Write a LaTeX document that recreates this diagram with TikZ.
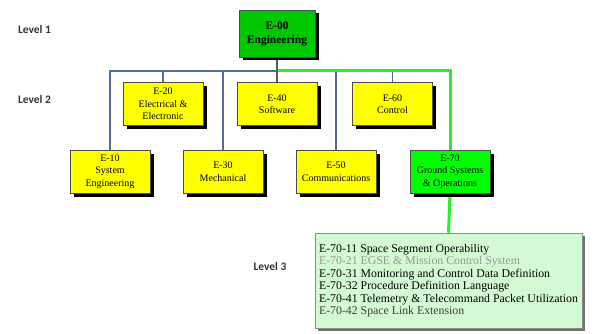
\documentclass[tikz,border=0pt]{standalone}
\usepackage{fontspec}
\setmainfont{Liberation Serif}
\newfontfamily\lvlfont{Carlito}
\usetikzlibrary{shadows,backgrounds}
\definecolor{boxyellow}{RGB}{255,255,0}
\definecolor{topgreen}{RGB}{0,200,0}
\definecolor{brightgreen}{RGB}{0,255,0}
\definecolor{palegreen}{RGB}{212,250,212}
\definecolor{busblue}{RGB}{80,110,150}
\definecolor{busgreen}{RGB}{40,240,40}
\definecolor{dimtext}{RGB}{150,150,150}
\definecolor{midtext}{RGB}{60,60,60}

\begin{document}
\begin{tikzpicture}[x=1pt,y=-1pt,
  boxshadow/.style={drop shadow={shadow xshift=3.5pt, shadow yshift=-3.5pt, opacity=1, fill=black}},
  unitbox/.style={boxshadow, draw=black!70, line width=0.5pt, fill=boxyellow,
    minimum width=80pt, minimum height=43pt, align=center, inner sep=1pt,
    font=\fontsize{10}{12.5}\selectfont},
  topbox/.style={unitbox, fill=topgreen, minimum width=76pt, minimum height=47pt,
    font=\fontsize{11.5}{14}\selectfont\bfseries},
  groundbox/.style={unitbox, fill=brightgreen},
  listbox/.style={drop shadow={shadow xshift=3pt, shadow yshift=-3pt, opacity=0.8, fill=black!70},
    draw=black!45, line width=0.5pt, fill=palegreen, minimum width=263pt, minimum height=95pt,
    align=left, inner xsep=4pt, inner ysep=0pt, font=\fontsize{11.8}{12.5}\selectfont},
  levellabel/.style={font=\lvlfont\bfseries\fontsize{11.5}{13}\selectfont, text=black!80},
  busline/.style={draw=busblue, line width=1.1pt},
  stemline/.style={draw=black!65, line width=1.1pt},
  greenline/.style={draw=busgreen, line width=3pt}
]
\useasboundingbox (0,0) rectangle (594,334);

% level labels
\node[levellabel] (lv1) at (34.5,30) {Level 1};
\node[levellabel] (lv2) at (34.5,100) {Level 2};
\node[levellabel] (lv3) at (270,267) {Level 3};

% level 1
\node[topbox] (e00) at (277,33.5) {E-00\\Engineering};

% level 2, upper row
\node[unitbox] (e20) at (163,104) {E-20\\Electrical \&\\Electronic};
\node[unitbox] (e40) at (277,104) {E-40\\Software};
\node[unitbox] (e60) at (392.5,104) {E-60\\Control};

% level 2, lower row
\node[unitbox] (e10) at (110,171.5) {E-10\\System\\Engineering};
\node[unitbox] (e30) at (223,171.5) {E-30\\Mechanical};
\node[unitbox] (e50) at (336,171.5) {E-50\\Communications};
\node[groundbox] (e70) at (450,171.5) {E-70\\Ground Systems\\\& Operations};

% level 3
\node[listbox] (l3) at (448.5,280.5) {%
E-70-11 Space Segment Operability\\
\textcolor{dimtext}{E-70-21 EGSE \& Mission Control System}\\
E-70-31 Monitoring and Control Data Definition\\
E-70-32 Procedure Definition Language\\
E-70-41 Telemetry \& Telecommand Packet Utilization\\
\textcolor{midtext}{E-70-42 Space Link Extension}};

% connectors
\coordinate (bus) at (0,71);
\begin{scope}[on background layer]
  \draw[busline] (e10.north) -- (e10.north |- bus) -- (e00.south |- bus);
  \draw[busline] (e20.north) -- (e20.north |- bus);
  \draw[busline] (e30.north) -- (e30.north |- bus);
  \draw[busline] (e50.north) -- (e50.north |- bus);
  \draw[busline] (e60.north) -- (e60.north |- bus);
  \draw[greenline] (e00.south |- bus) -- (e70.north |- bus) -- (e70.north);
  \draw[greenline] (e70.south) -- (l3.north);
  \draw[stemline] (e00.south) -- (e40.north);
\end{scope}
\end{tikzpicture}
\end{document}
